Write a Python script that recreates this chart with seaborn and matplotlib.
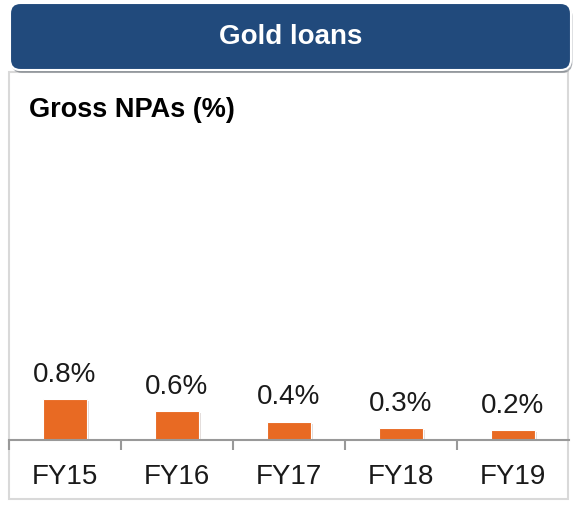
import seaborn as sns
import pandas as pd
import matplotlib.pyplot as plt
from matplotlib.patches import FancyBboxPatch, Rectangle
import matplotlib.patheffects as pe

years = ["FY15", "FY16", "FY17", "FY18", "FY19"]
gross_npa = [0.80, 0.56, 0.36, 0.23, 0.20]
npa_labels = ["0.8%", "0.6%", "0.4%", "0.3%", "0.2%"]

sns.set_theme(style="white")
plt.rcParams['font.family'] = ['Liberation Sans', 'DejaVu Sans']

W, H = 577, 505
fig = plt.figure(figsize=(W / 100, H / 100), dpi=100)


def fx(px):
    return px / W


def fy(py):
    return 1 - py / H


# panel border
panel = Rectangle((fx(9), fy(499)), fx(568) - fx(9), fy(72) - fy(499),
                  transform=fig.transFigure, facecolor="white",
                  edgecolor="#d9d9d9", linewidth=1.5, zorder=-2)
fig.patches.append(panel)

# header box
header = FancyBboxPatch((fx(10), fy(70)), fx(571) - fx(10), fy(3) - fy(70),
                        boxstyle="round,pad=0,rounding_size=0.018",
                        transform=fig.transFigure, facecolor="#214A7C",
                        edgecolor="white", linewidth=1.5, zorder=2,
                        mutation_aspect=W / H)
header.set_path_effects([pe.SimplePatchShadow(offset=(1, -2), alpha=0.35), pe.Normal()])
fig.patches.append(header)
fig.text(fx(291), fy(37), "Gold loans", color="white", fontsize=20,
         fontweight="bold", ha="center", va="center", zorder=3)

fig.text(fx(29), fy(110), "Gross NPAs (%)", color="black", fontsize=19.5,
         fontweight="bold", ha="left", va="center")

# axes
ax = fig.add_axes([fx(9), fy(440), fx(569) - fx(9), fy(133) - fy(440)])
ax.set_zorder(1)
ax.patch.set_alpha(0)

df = pd.DataFrame({"Year": years, "Gross NPA": gross_npa})
sns.barplot(data=df, x="Year", y="Gross NPA", color="#E86A23", width=0.39,
            saturation=1, ax=ax, edgecolor="white", linewidth=0.8)

for bar in ax.patches:
    bar.set_path_effects([pe.SimplePatchShadow(offset=(1.5, -1.5), alpha=0.15), pe.Normal()])

for i, (v, lab) in enumerate(zip(gross_npa, npa_labels)):
    ax.annotate(lab, (i, v), xytext=(0, 8), textcoords="offset points",
                ha="center", va="bottom", fontsize=20, color="#1a1a1a")

ax.set_xlim(-0.5, 4.5)
ax.set_ylim(0, 6)
ax.set_xlabel("")
ax.set_ylabel("")
ax.set_yticks([])
for s in ["top", "right", "left"]:
    ax.spines[s].set_visible(False)
ax.spines["bottom"].set_color("#999999")
ax.spines["bottom"].set_linewidth(1.5)

ax.set_xticks(range(len(years)))
ax.set_xticklabels(years, fontsize=20, color="#1a1a1a")
ax.tick_params(axis="x", which="major", length=0, pad=17)
ax.set_xticks([-0.5, 0.5, 1.5, 2.5, 3.5], minor=True)
ax.tick_params(axis="x", which="minor", length=7, width=1.5, color="#999999",
               direction="out", bottom=True)

fig.savefig("out.png", dpi=100)
